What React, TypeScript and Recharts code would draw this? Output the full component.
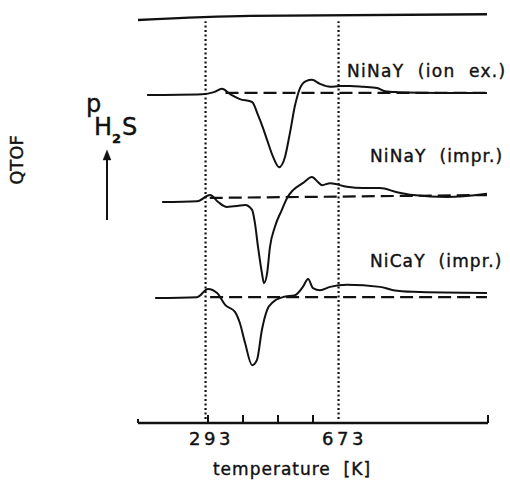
import { LineChart, Line, XAxis, YAxis, ReferenceLine } from "recharts";

// temperature [K] and signal (arbitrary units, 0-100)
const ionExT = [126, 283, 317, 340, 363, 391, 426, 443, 457, 469, 486, 503, 520, 534, 549, 563, 580, 597, 620, 649, 677, 706, 743, 783, 806, 840, 963, 1097];
const ionExV = [80.0, 80.2, 80.7, 81.5, 80.2, 79.0, 78.3, 75.1, 72.0, 69.0, 64.9, 62.4, 64.9, 70.7, 77.6, 81.7, 83.4, 83.7, 82.7, 82.0, 82.2, 82.2, 82.0, 81.7, 80.9, 80.7, 80.5, 80.5];

const naImprT = [169, 269, 306, 329, 354, 383, 406, 426, 434, 443, 454, 460, 469, 477, 491, 511, 526, 543, 571, 597, 614, 626, 649, 697, 743, 791, 840, 886, 983, 1097];
const naImprV = [53.9, 54.1, 55.6, 53.9, 52.7, 52.9, 53.2, 52.0, 48.8, 42.9, 36.6, 34.1, 36.6, 42.9, 47.8, 52.0, 54.9, 56.8, 58.5, 60.0, 58.8, 58.0, 58.5, 57.6, 57.3, 57.3, 56.3, 55.6, 55.1, 55.9];

const caImprT = [149, 269, 300, 326, 349, 377, 391, 406, 426, 440, 454, 469, 486, 514, 549, 571, 586, 600, 620, 649, 697, 791, 829, 886, 1097];
const caImprV = [30.5, 30.7, 32.7, 31.7, 28.8, 27.1, 24.4, 19.5, 14.1, 15.4, 22.7, 27.6, 29.5, 30.7, 31.2, 33.2, 35.1, 32.9, 32.4, 33.2, 33.7, 33.2, 32.4, 32.0, 31.7];

// baselines (dashed) and the top reference trace
const topT = [100, 420, 1097];
const topV = [98.3, 99.3, 99.7];
const base1T = [350, 1097];
const base1V = [80.5, 80.5];
const base2T = [305, 1097];
const base2V = [54.9, 55.6];
const base3T = [306, 1097];
const base3V = [30.7, 30.7];

const axisTicks = [100, 293, 300, 400, 500, 600, 673, 1100];
const labelTicks = [293, 673];
const dottedAt = [293, 673];

const INK = "#111";
const FONT = "DejaVu Sans";

const zip = (t: number[], v: number[]) => t.map((k, i) => ({ k, v: v[i] }));

function TempTick({ x, y, payload }: any) {
  const val = payload.value;
  if (labelTicks.includes(val)) {
    return (
      <text x={x + 6} y={y + 22} textAnchor="middle" fontFamily={FONT} fontSize={18}
        letterSpacing={3.5} fill={INK} stroke={INK} strokeWidth={0.4}>{val}</text>
    );
  }
  const h = val === 100 ? 4 : 8;
  return <line x1={x} x2={x} y1={y} y2={y - h} stroke={INK} strokeWidth={2} />;
}

export default function App() {
  const curves = [zip(ionExT, ionExV), zip(naImprT, naImprV), zip(caImprT, caImprV)];
  const bases = [zip(base1T, base1V), zip(base2T, base2V), zip(base3T, base3V)];

  return (
    <div style={{ position: "absolute", left: 0, top: 0, width: 510, height: 483, background: "#fff" }}>
      <LineChart width={510} height={483} margin={{ top: 13, right: 22, left: 138, bottom: 0 }}>
        <XAxis
          dataKey="k"
          type="number"
          domain={[100, 1100]}
          ticks={axisTicks}
          interval={0}
          height={60}
          tickSize={0}
          tickMargin={0}
          tickLine={false}
          axisLine={{ stroke: INK, strokeWidth: 2.5 }}
          tick={<TempTick />}
          allowDataOverflow
        />
        <YAxis type="number" domain={[0, 100]} hide width={0} allowDataOverflow />

        {dottedAt.map(t => (
          <ReferenceLine
            key={t}
            segment={[{ x: t, y: 1 }, { x: t, y: 98 }]}
            stroke={INK}
            strokeWidth={2.2}
            strokeDasharray="2 2.5"
          />
        ))}

        <Line data={zip(topT, topV)} dataKey="v" type="monotone" stroke={INK} strokeWidth={2.4}
          dot={false} isAnimationActive={false} />

        {bases.map((b, i) => (
          <Line key={"b" + i} data={b} dataKey="v" type="linear" stroke={INK} strokeWidth={2.2}
            strokeDasharray="13 6" dot={false} isAnimationActive={false} />
        ))}

        {curves.map((c, i) => (
          <Line key={"c" + i} data={c} dataKey="v" type="monotone" stroke={INK} strokeWidth={2}
            dot={false} isAnimationActive={false} />
        ))}
      </LineChart>

      <svg width={510} height={483} style={{ position: "absolute", left: 0, top: 0, pointerEvents: "none" }}
        fontFamily={FONT} fill={INK} stroke={INK} strokeWidth={0.4}>
        <text x={347} y={77} fontSize={17} letterSpacing={1.3} xmlSpace="preserve">NiNaY  (ion  ex.)</text>
        <text x={370} y={162} fontSize={17} letterSpacing={1.1} xmlSpace="preserve">NiNaY  (impr.)</text>
        <text x={370} y={267} fontSize={17} letterSpacing={1.1} xmlSpace="preserve">NiCaY  (impr.)</text>

        <text x={86} y={112} fontSize={24}>p</text>
        <text x={94} y={135} fontSize={24}>H</text>
        <text x={112} y={143} fontSize={13} fontWeight="bold">2</text>
        <text x={122} y={135} fontSize={24}>S</text>

        <line x1={107} x2={107} y1={220} y2={157} stroke={INK} strokeWidth={2} />
        <polygon points="107,150 103,160 111,160" />

        <text transform="translate(23,160) rotate(-90)" textAnchor="middle" fontSize={18}>QTOF</text>

        <text x={292} y={475} textAnchor="middle" fontSize={17} letterSpacing={1} xmlSpace="preserve">temperature  [K]</text>
      </svg>
    </div>
  );
}
